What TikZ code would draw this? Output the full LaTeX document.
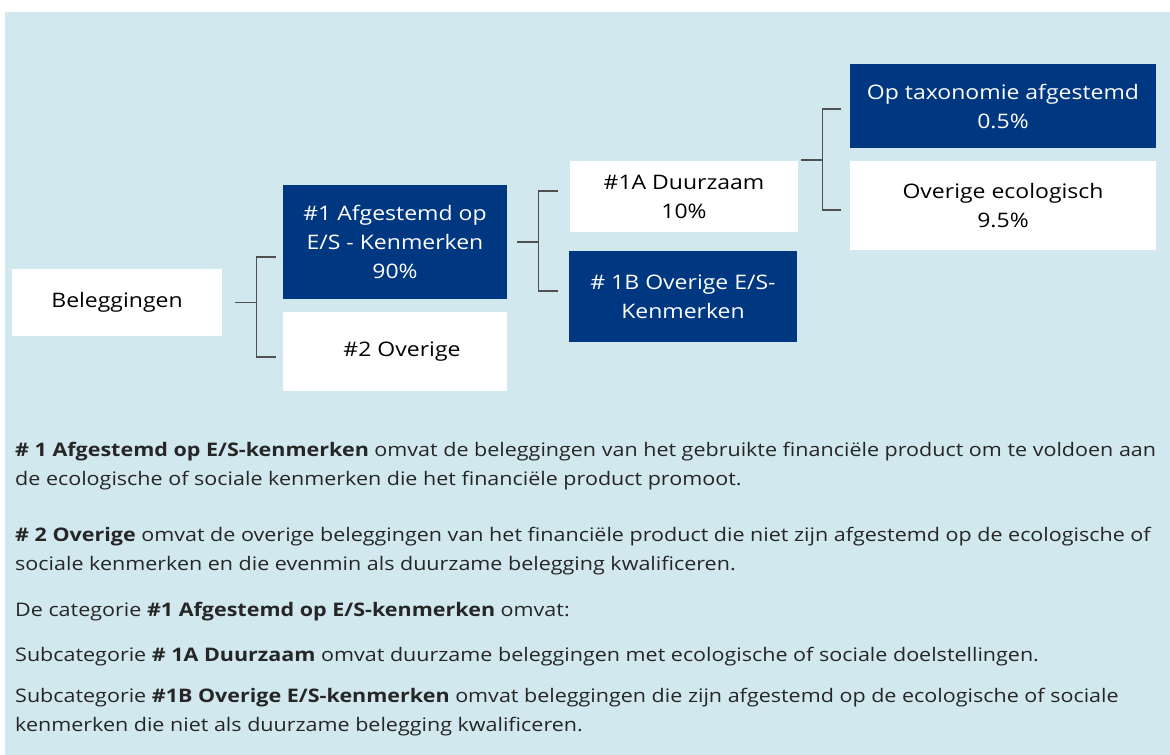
\documentclass[tikz,border=0pt]{standalone}
\usepackage{fontspec}
\setmainfont{Open Sans}[FakeStretch=1.15]
\usepackage{xcolor}
\usetikzlibrary{positioning, calc}

\definecolor{bgblue}{RGB}{208,232,238}
\definecolor{navy}{RGB}{0,55,129}
\definecolor{linegray}{RGB}{80,80,80}

\tikzset{
    box/.style={fill=white, text=black, align=center, inner sep=0pt,
        font=\fontsize{20}{29}\selectfont},
    darkbox/.style={box, fill=navy, text=white},
    conn/.style={draw=linegray, line width=1.2pt},
    para/.style={anchor=west, align=left, inner sep=0pt, text=black!85,
        font=\fontsize{18.7}{29}\selectfont}
}

\begin{document}
\begin{tikzpicture}[x=1pt, y=-1pt]
    \useasboundingbox (0,0) rectangle (1170,755);
    \fill[bgblue] (5,12) rectangle (1170,755);

    % Nodes
    \node (beleg) [box, minimum width=210pt, minimum height=67pt] at (117,302.5) {Beleggingen};
    \node (afg) [darkbox, minimum width=224pt, minimum height=114pt] at (395,242) {\#1 Afgestemd op\\E/S - Kenmerken\\90\%};
    \node (ovr) [box, minimum width=224pt, minimum height=79pt] at (395,351.5) {\hspace{14pt}\#2 Overige};
    \node (dz) [box, minimum width=228pt, minimum height=71pt] at (684,196.5) {\#1A Duurzaam\\10\%};
    \node (oes) [darkbox, minimum width=228pt, minimum height=91pt] at (683,296.5) {\# 1B Overige E/S-\\Kenmerken};
    \node (tax) [darkbox, minimum width=306pt, minimum height=84pt] at (1003,106) {Op taxonomie afgestemd\\0.5\%};
    \node (eco) [box, minimum width=306pt, minimum height=89pt] at (1003,205.5) {Overige ecologisch\\9.5\%};

    % Brackets
    \draw[conn] ($(beleg.east)+(13,0)$) -- ++(21,0) coordinate (j1);
    \draw[conn] ($(afg.west)+(-7,15)$) -| (j1) |- ($(ovr.west)+(-7,5.5)$);
    \draw[conn] ($(afg.east)+(10,0)$) -- ++(21,0) coordinate (j2);
    \draw[conn] ($(dz.west)+(-12,-5.5)$) -| (j2) |- ($(oes.west)+(-11,-5.5)$);
    \draw[conn] ($(dz.east)+(3,-36.5)$) -- ++(21,0) coordinate (j3);
    \draw[conn] ($(tax.west)+(-9,3)$) -| (j3) |- ($(eco.west)+(-9,4.5)$);

    % Explanations
    \node (p1) [para] at (15,466) {\textbf{\# 1 Afgestemd op E/S-kenmerken} omvat de beleggingen van het gebruikte financiële product om te voldoen aan\\de ecologische of sociale kenmerken die het financiële product promoot.};
    \node (p2) [para] at (15,551) {\textbf{\# 2 Overige} omvat de overige beleggingen van het financiële product die niet zijn afgestemd op de ecologische of\\sociale kenmerken en die evenmin als duurzame belegging kwalificeren.};
    \node (p3) [para] at (15,612) {De categorie \textbf{\#1 Afgestemd op E/S-kenmerken} omvat:};
    \node (p4) [para] at (15,657) {Subcategorie \textbf{\# 1A Duurzaam} omvat duurzame beleggingen met ecologische of sociale doelstellingen.};
    \node (p5) [para] at (15,712) {Subcategorie \textbf{\#1B Overige E/S-kenmerken} omvat beleggingen die zijn afgestemd op de ecologische of sociale\\kenmerken die niet als duurzame belegging kwalificeren.};
\end{tikzpicture}
\end{document}
